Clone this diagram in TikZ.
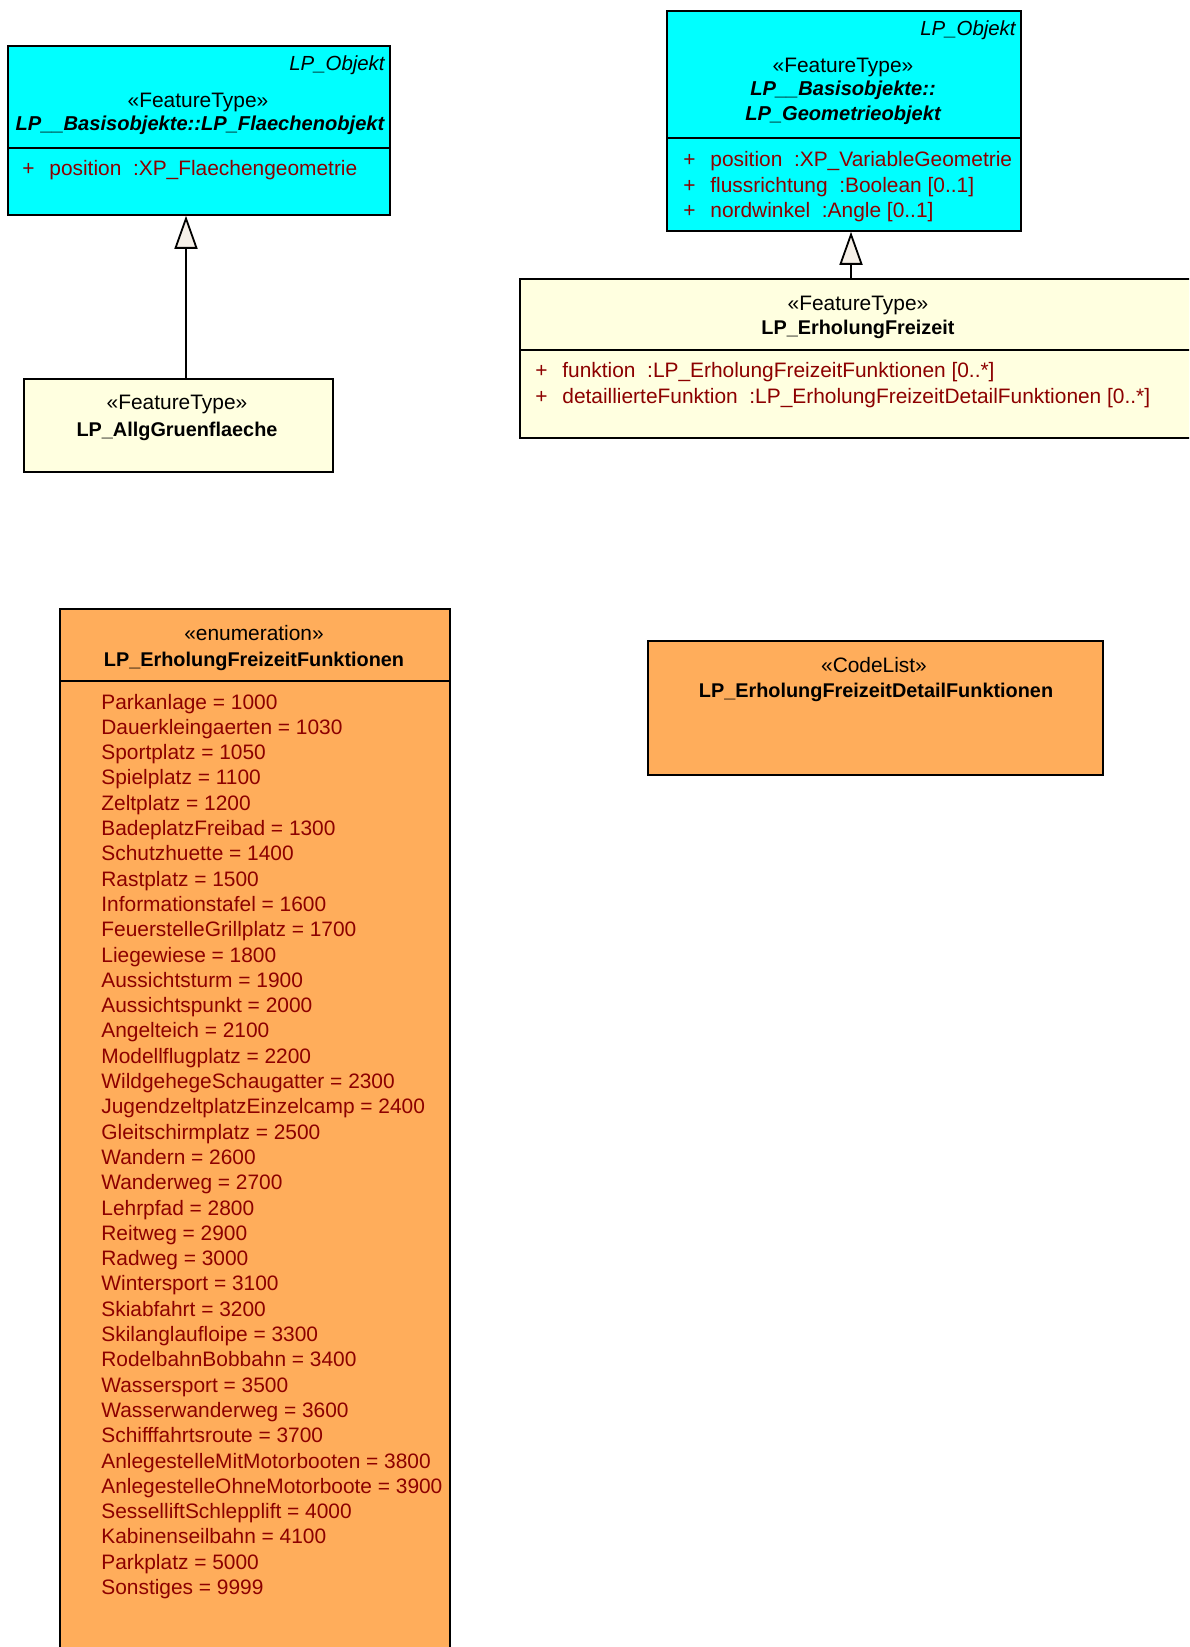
\documentclass[tikz,border=0pt]{standalone}
\usepackage{fontspec}
\setmainfont{Liberation Sans}
\usepackage{xcolor}
\usepackage{tikz}
\usetikzlibrary{arrows.meta}
\definecolor{featcyan}{RGB}{0,255,255}
\definecolor{featyellow}{RGB}{255,255,224}
\definecolor{enumorange}{RGB}{255,173,91}
\definecolor{attrred}{RGB}{140,0,0}
\definecolor{tipfill}{RGB}{246,240,232}
\newcommand{\attr}[1]{\makebox[13.5pt][l]{+}#1}

\begin{document}
\begin{tikzpicture}[
    x=0.5pt, y=-0.5pt,
    font=\fontsize{10.45}{12.65}\selectfont,
    box/.style={rectangle, draw, line width=0.9pt, anchor=north west, inner sep=0pt},
    sepline/.style={line width=0.9pt},
    stereo/.style={anchor=base, inner sep=0pt},
    title/.style={anchor=base, inner sep=0pt, font=\fontsize{9.93}{12.65}\selectfont\bfseries},
    abstitle/.style={title, font=\fontsize{10.05}{12.65}\selectfont\bfseries\itshape},
    pkg/.style={anchor=base east, inner sep=0pt, font=\fontsize{10.2}{12.65}\selectfont\itshape},
    attrs/.style={anchor=base west, inner sep=0pt, text=attrred},
    inherit/.style={-{Triangle[length=16.5pt, width=11.5pt, fill=tipfill]}, line width=0.9pt}
]
    \useasboundingbox (0,0) rectangle (1189,1647);
    \clip (0,0) rectangle (1189,1647);

    % Boxes
    \node[box, fill=featcyan, minimum width=191pt, minimum height=84.5pt] (flaeche) at (7,45) {};
    \node[box, fill=featyellow, minimum width=154.5pt, minimum height=46.5pt] (allg) at (23,378) {};
    \node[box, fill=featcyan, minimum width=177pt, minimum height=110pt] (geom) at (666,10) {};
    \node[box, fill=featyellow, minimum width=339pt, minimum height=79.5pt] (erholung) at (519,278) {};
    \node[box, fill=enumorange, minimum width=195pt, minimum height=550pt] (funktionen) at (59,608) {};
    \node[box, fill=enumorange, minimum width=227.5pt, minimum height=67pt] (detail) at (647,640) {};

    % Compartment lines
    \draw[sepline] (flaeche.west |- 0,148) -- (flaeche.east |- 0,148);
    \draw[sepline] (geom.west |- 0,138) -- (geom.east |- 0,138);
    \draw[sepline] (erholung.west |- 0,350) -- (erholung.east |- 0,350);
    \draw[sepline] (funktionen.west |- 0,681) -- (funktionen.east |- 0,681);

    % LP_Flaechenobjekt
    \node[pkg] (flaechepkg) at (385,71) {LP\_Objekt};
    \node[stereo] (flaechestereo) at (198,108) {«FeatureType»};
    \node[abstitle] (flaechename) at (200,131) {LP\_\_Basisobjekte::LP\_Flaechenobjekt};
    \node[attrs] (flaecheattr) at (22,176) {\attr{position\ \ :XP\_Flaechengeometrie}};

    % LP_AllgGruenflaeche
    \node[stereo] (allgstereo) at (177,409) {«FeatureType»};
    \node[title] (allgname) at (177,436) {LP\_AllgGruenflaeche};

    % LP_Geometrieobjekt
    \node[pkg] (geompkg) at (1016,36) {LP\_Objekt};
    \node[stereo] (geomstereo) at (843,73) {«FeatureType»};
    \node[abstitle] (geomname) at (843,96) {LP\_\_Basisobjekte::};
    \node[abstitle] (geomname2) at (843,121) {LP\_Geometrieobjekt};
    \node[attrs] (geomattr) at (683,167) {\begin{tabular}[t]{@{}l@{}}
        \attr{position\ \ :XP\_VariableGeometrie}\\
        \attr{flussrichtung\ \ :Boolean [0..1]}\\
        \attr{nordwinkel\ \ :Angle [0..1]}
    \end{tabular}};

    % LP_ErholungFreizeit
    \node[stereo] (erholungstereo) at (858,311) {«FeatureType»};
    \node[title] (erholungname) at (858,335) {LP\_ErholungFreizeit};
    \node[attrs] (erholungattr) at (535,378) {\begin{tabular}[t]{@{}l@{}}
        \attr{funktion\ \ :LP\_ErholungFreizeitFunktionen [0..*]}\\
        \attr{detaillierteFunktion\ \ :LP\_ErholungFreizeitDetailFunktionen [0..*]}
    \end{tabular}};

    % LP_ErholungFreizeitFunktionen
    \node[stereo] (funktionenstereo) at (254,640) {«enumeration»};
    \node[title] (funktionenname) at (254,666) {LP\_ErholungFreizeitFunktionen};
    \node[attrs] (funktionenwerte) at (101,709) {\begin{tabular}[t]{@{}l@{}}
        Parkanlage = 1000\\
        Dauerkleingaerten = 1030\\
        Sportplatz = 1050\\
        Spielplatz = 1100\\
        Zeltplatz = 1200\\
        BadeplatzFreibad = 1300\\
        Schutzhuette = 1400\\
        Rastplatz = 1500\\
        Informationstafel = 1600\\
        FeuerstelleGrillplatz = 1700\\
        Liegewiese = 1800\\
        Aussichtsturm = 1900\\
        Aussichtspunkt = 2000\\
        Angelteich = 2100\\
        Modellflugplatz = 2200\\
        WildgehegeSchaugatter = 2300\\
        JugendzeltplatzEinzelcamp = 2400\\
        Gleitschirmplatz = 2500\\
        Wandern = 2600\\
        Wanderweg = 2700\\
        Lehrpfad = 2800\\
        Reitweg = 2900\\
        Radweg = 3000\\
        Wintersport = 3100\\
        Skiabfahrt = 3200\\
        Skilanglaufloipe = 3300\\
        RodelbahnBobbahn = 3400\\
        Wassersport = 3500\\
        Wasserwanderweg = 3600\\
        Schifffahrtsroute = 3700\\
        AnlegestelleMitMotorbooten = 3800\\
        AnlegestelleOhneMotorboote = 3900\\
        SesselliftSchlepplift = 4000\\
        Kabinenseilbahn = 4100\\
        Parkplatz = 5000\\
        Sonstiges = 9999
    \end{tabular}};

    % LP_ErholungFreizeitDetailFunktionen
    \node[stereo] (detailstereo) at (874,672) {«CodeList»};
    \node[title] (detailname) at (876,697) {LP\_ErholungFreizeitDetailFunktionen};

    % Generalisations
    \draw[inherit] (allg.north -| 186,0) -- (flaeche.south -| 186,0);
    \draw[inherit] (erholung.north -| 851,0) -- (geom.south -| 851,0);
\end{tikzpicture}
\end{document}
